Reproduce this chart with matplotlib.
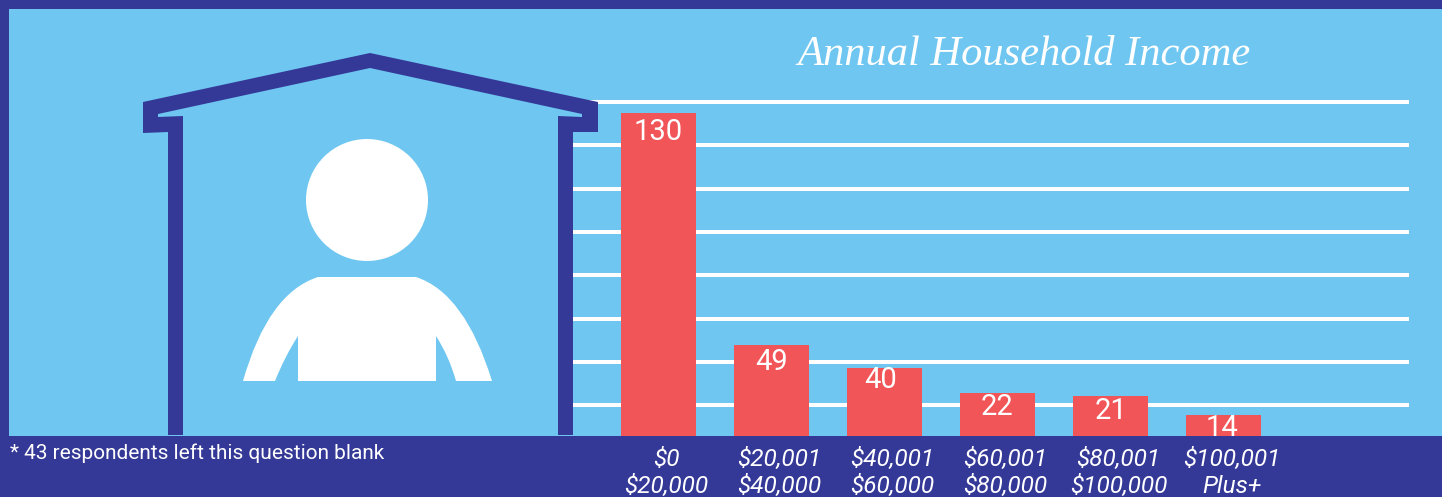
#!/usr/bin/env python3
"""Annual household income infographic: house icon on the left, bars on the right."""
import matplotlib

matplotlib.use("Agg")
import matplotlib.pyplot as plt
from matplotlib.patches import Circle, PathPatch, Polygon, Rectangle
from matplotlib.path import Path
from matplotlib.transforms import ScaledTranslation

W, H = 1442, 497
SKY = "#6EC6F1"
NAVY = "#343896"
RED = "#F15558"
WHITE = "#FFFFFF"

income_low = ["$0", "$20,001", "$40,001", "$60,001", "$80,001", "$100,001"]
income_high = ["$20,000", "$40,000", "$60,000", "$80,000", "$100,000", "Plus+"]
counts = [130, 49, 40, 22, 21, 14]
# the original's bars are not to scale with their labels, so heights are read separately
bar_heights = [130, 36.3, 27.2, 17.1, 15.9, 8.2]
grid_levels = [12.2, 29.6, 47.1, 64.6, 82.0, 99.5, 117.0, 134.4]

# label placement relative to the bar top, in points: (across, down)
LABEL_NUDGE = [(0, 0.9), (0, -1.4), (-2.5, -4.1), (0, -2.8), (0, -2.1), (-1, -4.0)]

HOUSE = [(143, 102), (370, 53), (598, 102), (598, 132), (573, 132), (573, 435),
         (558, 435), (558, 116), (582, 117), (582, 114), (370, 68), (158, 114),
         (158, 117), (183, 116), (183, 435), (168, 435), (168, 132), (143, 133)]


def person_body() -> Path:
    verts = [(318, 277), (416, 277),
             (465, 293), (492, 381),
             (456, 381),
             (449, 356), (436, 336),
             (436, 381), (298, 381), (298, 336),
             (285, 356), (275, 381),
             (243, 381),
             (268, 293), (318, 277),
             (318, 277)]
    codes = [Path.MOVETO, Path.LINETO,
             Path.CURVE3, Path.CURVE3,
             Path.LINETO,
             Path.CURVE3, Path.CURVE3,
             Path.LINETO, Path.LINETO, Path.LINETO,
             Path.CURVE3, Path.CURVE3,
             Path.LINETO,
             Path.CURVE3, Path.CURVE3,
             Path.CLOSEPOLY]
    return Path(verts, codes)


def main() -> None:
    plt.rcParams["font.family"] = ["Roboto", "DejaVu Sans"]
    fig = plt.figure(figsize=(W / 100, H / 100), dpi=100, facecolor=NAVY)

    # backdrop, in pixel coordinates
    bg = fig.add_axes([0, 0, 1, 1], zorder=0)
    bg.set_xlim(0, W)
    bg.set_ylim(H, 0)
    bg.axis("off")
    bg.add_patch(Rectangle((9, 9), W - 9, 426.5, color=SKY, lw=0))

    # bars: pixel spans 573-1409 across, 435.5 up to 90
    px_per_unit = 322.5 / 130
    ax = fig.add_axes([573 / W, (H - 435.5) / H, (1409 - 573) / W, 345.5 / H], zorder=1)
    ax.patch.set_visible(False)
    ax.set_xlim((573 - 658.5) / 113, (1409 - 658.5) / 113)
    ax.set_ylim(0, 345.5 / px_per_unit)
    xs = list(range(len(counts)))
    ax.bar(xs, bar_heights, width=75 / 113, color=RED, zorder=2)
    ax.set_yticks(grid_levels)
    ax.yaxis.grid(True, color=WHITE, linewidth=2.9, zorder=1)
    ax.set_axisbelow(True)
    ax.tick_params(left=False, bottom=False, labelleft=False)
    ax.set_xticks(xs)
    ax.set_xticklabels([f"{a}\n{b}" for a, b in zip(income_low, income_high)],
                       fontsize=17.6, style="italic", color=WHITE, linespacing=1.2)
    ax.tick_params(axis="x", pad=5.5)
    # tick labels sit a little right of their bars in the original
    shift = ScaledTranslation(8 / 100, 0, fig.dpi_scale_trans)
    for label in ax.get_xticklabels():
        label.set_transform(label.get_transform() + shift)
    for spine in ax.spines.values():
        spine.set_visible(False)
    for x, h, c, (dx, dy) in zip(xs, bar_heights, counts, LABEL_NUDGE):
        ax.annotate(str(c), (x, h), xytext=(dx, -3 - dy), textcoords="offset points",
                    ha="center", va="top", fontsize=21, color=WHITE, zorder=3,
                    annotation_clip=False)

    # house icon and text go on top of the grid lines
    top = fig.add_axes([0, 0, 1, 1], zorder=2)
    top.set_xlim(0, W)
    top.set_ylim(H, 0)
    top.axis("off")
    top.add_patch(Polygon(HOUSE, closed=True, color=NAVY, lw=0))
    top.add_patch(Circle((367, 200), 61, color=WHITE, lw=0))
    top.add_patch(PathPatch(person_body(), color=WHITE, lw=0))
    top.text(10, 453, "* 43 respondents left this question blank", fontsize=15,
             color=WHITE, va="center", ha="left")
    top.text(1024, 55, "Annual Household Income", fontsize=30.6, color=WHITE,
             family=["Liberation Serif"], style="italic", ha="center", va="center")

    fig.savefig("out.png", dpi=100, facecolor=NAVY)
    plt.close(fig)


if __name__ == "__main__":
    main()
